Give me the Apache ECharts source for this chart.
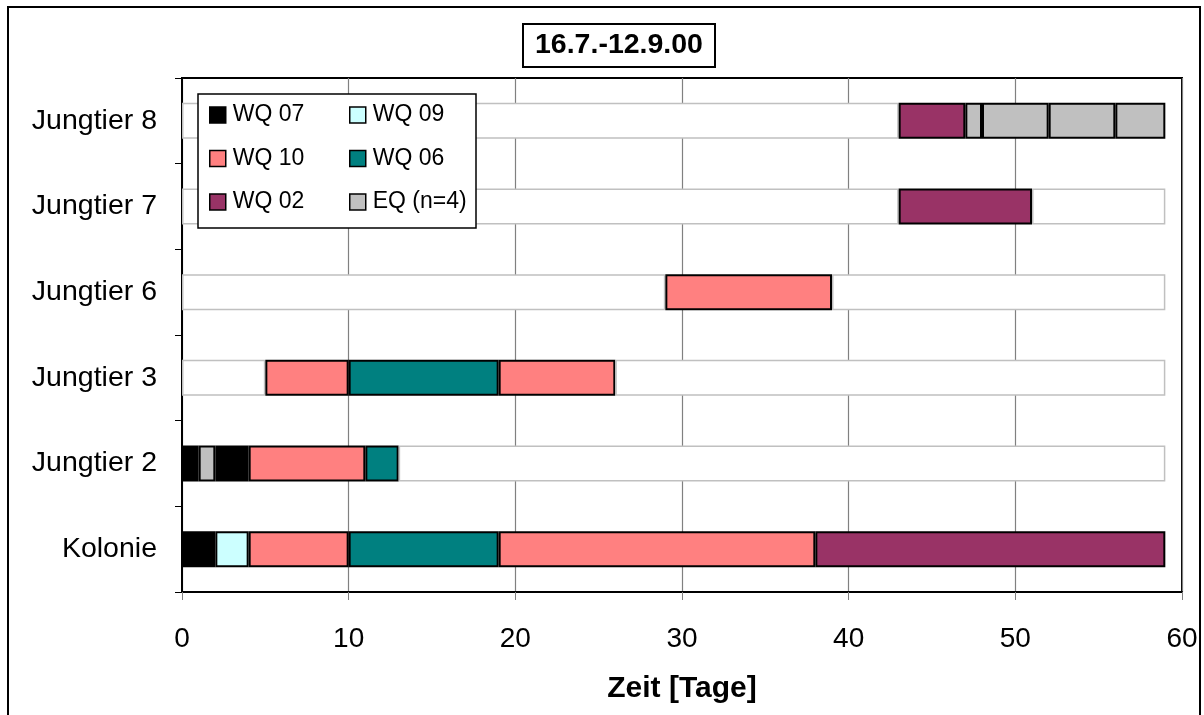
<!DOCTYPE html>
<html>
<head>
<meta charset="utf-8">
<script src="https://cdn.jsdelivr.net/npm/echarts@6/dist/echarts.min.js"></script>
<style>html,body{margin:0;padding:0;background:#fff}#c{width:1204px;height:715px}</style>
</head>
<body>
<div id="c"></div>
<script>
// ---- data ----
const categories = ['Kolonie', 'Jungtier 2', 'Jungtier 3', 'Jungtier 6', 'Jungtier 7', 'Jungtier 8'];
const legendTypes = ['WQ 07', 'WQ 09', 'WQ 10', 'WQ 06', 'WQ 02', 'EQ (n=4)'];
const xTicks = [0, 10, 20, 30, 40, 50, 60];
const titleText = '16.7.-12.9.00';
const xAxisName = 'Zeit [Tage]';

const kolonieTypes = ['WQ 07', 'WQ 09', 'WQ 10', 'WQ 06', 'WQ 10', 'WQ 02'];
const kolonieDays  = [2, 2, 6, 9, 19, 21];
const jt2Types = ['WQ 07', 'EQ (n=4)', 'WQ 07', 'WQ 10', 'WQ 06', 'leer'];
const jt2Days  = [1, 1, 2, 7, 2, 46];
const jt3Types = ['leer', 'WQ 10', 'WQ 06', 'WQ 10', 'leer'];
const jt3Days  = [5, 5, 9, 7, 33];
const jt6Types = ['leer', 'WQ 10', 'leer'];
const jt6Days  = [29, 10, 20];
const jt7Types = ['leer', 'WQ 02', 'leer'];
const jt7Days  = [43, 8, 8];
const jt8Types = ['leer', 'WQ 02', 'EQ (n=4)', 'EQ (n=4)', 'EQ (n=4)', 'EQ (n=4)'];
const jt8Days  = [43, 4, 1, 4, 4, 3];

// ---- styles ----
const palette = {
  'WQ 07': '#000000', 'WQ 09': '#ccffff', 'WQ 10': '#ff8080',
  'WQ 06': '#008080', 'WQ 02': '#993366', 'EQ (n=4)': '#c0c0c0', 'leer': '#ffffff'
};
const FONT = '"Liberation Sans", Arial, sans-serif';

const rows = [
  [kolonieTypes, kolonieDays], [jt2Types, jt2Days], [jt3Types, jt3Days],
  [jt6Types, jt6Days], [jt7Types, jt7Days], [jt8Types, jt8Days]
];
const nLayers = Math.max(...rows.map(r => r[1].length));

function styleFor(t) {
  if (t === 'leer') return { color: '#ffffff', borderColor: '#c0c0c0', borderWidth: 1.5 };
  return { color: palette[t], borderColor: '#000000', borderWidth: 2 };
}

const series = [];
legendTypes.forEach(t => {
  series.push({
    name: t, type: 'bar', stack: 'total', data: [],
    itemStyle: { color: palette[t], borderColor: '#000', borderWidth: 1.5 }
  });
});
for (let k = 0; k < nLayers; k++) {
  series.push({
    name: 'Abschnitt ' + (k + 1),
    type: 'bar', stack: 'total', barWidth: 36,
    data: rows.map(r => r[1][k] != null ? { value: r[1][k], itemStyle: styleFor(r[0][k]) } : '-')
  });
}

const legendCommon = {
  orient: 'vertical', padding: 0, itemWidth: 16, itemHeight: 16, itemGap: 19.5,
  icon: 'rect', z: 10, selectedMode: false,
  itemStyle: { borderColor: '#000', borderWidth: 1.5 },
  textStyle: { fontFamily: FONT, fontSize: 23, color: '#000', lineHeight: 24, padding: [0, 0, 0, 2] }
};

const chart = echarts.init(document.getElementById('c'));
chart.setOption({
  animation: false,
  backgroundColor: '#fff',
  title: {
    text: titleText, left: 523, top: 24, padding: [7, 12, 7, 12],
    borderColor: '#000', borderWidth: 2,
    textStyle: { fontFamily: FONT, fontSize: 28.5, fontWeight: 'bold', color: '#000', lineHeight: 29 }
  },
  legend: [
    Object.assign({}, legendCommon, { left: 209, top: 103, data: [legendTypes[0], legendTypes[2], legendTypes[4]] }),
    Object.assign({}, legendCommon, { left: 349, top: 103, data: [legendTypes[1], legendTypes[3], legendTypes[5]] })
  ],
  graphic: [
    { type: 'rect', z: 8, shape: { x: 198, y: 94, width: 278, height: 134 },
      style: { fill: '#fff', stroke: '#000', lineWidth: 1.5 } },
    { type: 'rect', z: 0, silent: true, shape: { x: 8, y: 7, width: 1192, height: 730 },
      style: { fill: 'none', stroke: '#000', lineWidth: 2 } }
  ],
  grid: {
    left: 182, right: 22, top: 78, bottom: 123,
    show: true, borderColor: '#000', borderWidth: 2, backgroundColor: 'transparent'
  },
  xAxis: {
    type: 'value', min: xTicks[0], max: xTicks[xTicks.length - 1], interval: 10,
    name: xAxisName, nameLocation: 'middle', nameGap: 82,
    nameTextStyle: { fontFamily: FONT, fontSize: 30, fontWeight: 'bold', color: '#000' },
    axisLine: { show: true, lineStyle: { color: '#000', width: 2 } },
    axisTick: { show: true, length: 8, lineStyle: { color: '#808080', width: 1 } },
    axisLabel: { fontFamily: FONT, fontSize: 28, color: '#000', margin: 33 },
    splitLine: { show: true, lineStyle: { color: '#808080', width: 1.2 } }
  },
  yAxis: {
    type: 'category', data: categories,
    axisLine: { show: true, lineStyle: { color: '#000', width: 2 } },
    axisTick: { show: true, length: 7, lineStyle: { color: '#000', width: 1 } },
    axisLabel: { fontFamily: FONT, fontSize: 28.5, color: '#000', margin: 25 },
    splitLine: { show: false }
  },
  series: series
});
</script>
</body>
</html>
